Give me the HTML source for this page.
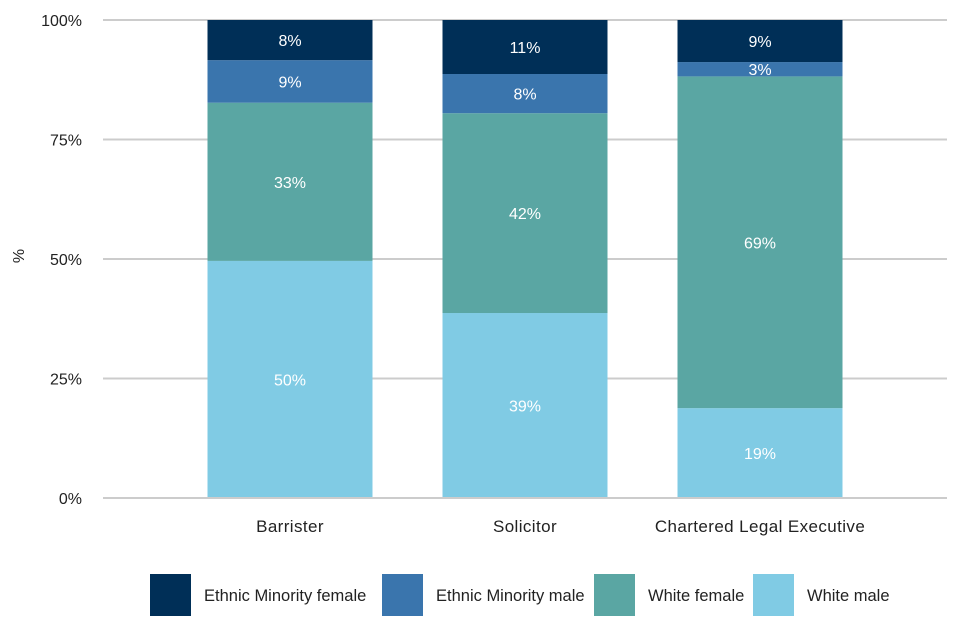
<!DOCTYPE html>
<html><head><meta charset="utf-8"><style>
html,body{margin:0;padding:0;background:#fff;}
svg{display:block;font-family:"Liberation Sans",Arial,sans-serif;}
</style></head><body>
<svg id="chart" width="960" height="640" viewBox="0 0 960 640"></svg>
<script>
const categories = ["Barrister", "Solicitor", "Chartered Legal Executive"];
const seriesNames = ["White male", "White female", "Ethnic Minority male", "Ethnic Minority female"];
const whiteMale = [49.6, 38.7, 18.8];
const whiteFemale = [33.1, 41.8, 69.4];
const ethnicMale = [8.9, 8.2, 3.0];
const ethnicFemale = [8.4, 11.3, 8.8];
const yTicks = [0, 25, 50, 75, 100];
const yTickLabels = ["0%", "25%", "50%", "75%", "100%"];

const series = [whiteMale, whiteFemale, ethnicMale, ethnicFemale];
const colors = ["#80cbe4", "#5aa6a3", "#3a75ad", "#002f57"];
const NS = "http://www.w3.org/2000/svg";
const svg = document.getElementById("chart");
const x0 = 103, x1 = 947, yBase = 498, yTop = 20;
const firstCenter = 290, step = 235, barW = 165;
function yScale(v){ return yBase - (yBase - yTop) * v / 100; }
function xCenter(i){ return firstCenter + step * i; }
function mk(tag, attrs, parent){ const e = document.createElementNS(NS, tag); for (const k in attrs) e.setAttribute(k, attrs[k]); (parent||svg).appendChild(e); return e; }

yTicks.forEach((t, i) => {
  const y = yScale(t);
  const g = mk("line", {x1:x0, x2:x1, y1:y, y2:y, stroke:"#cccccc", "stroke-width":2});
  
  
  const tx = mk("text", {x:82, y:y+6, "text-anchor":"end", "font-size":16, fill:"#222"});
  tx.textContent = yTickLabels[i];
  
  
});
const yt = mk("text", {x:24, y:256, "text-anchor":"middle", "font-size":16, fill:"#222", transform:"rotate(-90 24 256)"});
yt.textContent = "%";



categories.forEach((c, i) => {
  let cum = 0;
  const cx = xCenter(i);
  series.forEach((s, k) => {
    const v = s[i];
    const yT = yScale(cum + v), yB = yScale(cum);
    const r = mk("rect", {x:cx - barW/2, y:yT, width:barW, height:yB - yT, fill:colors[k]});
    
    
    const lb = mk("text", {x:cx, y:(yT+yB)/2 + 6, "text-anchor":"middle", "font-size":16, fill:"#fff"});
    lb.textContent = Math.round(v) + "%";
    
    
    cum += v;
  });
  const cl = mk("text", {x:cx, y:532, "text-anchor":"middle", "font-size":17, "letter-spacing":0.4, fill:"#222"});
  cl.textContent = c;
  
  
});
const ax = mk("line", {x1:x0, x2:x1, y1:yBase, y2:yBase, stroke:"#cccccc", "stroke-width":2});



const legendOrder = [3, 2, 1, 0];
const legendX = [150, 382, 594, 753];
legendOrder.forEach((k, j) => {
  const lr = mk("rect", {x:legendX[j], y:574, width:41, height:42, fill:colors[k]});
  
  
  const lt = mk("text", {x:legendX[j] + 54, y:601, "font-size":16.5, fill:"#222"});
  lt.textContent = seriesNames[k];
  
  
});
</script>
</body></html>
